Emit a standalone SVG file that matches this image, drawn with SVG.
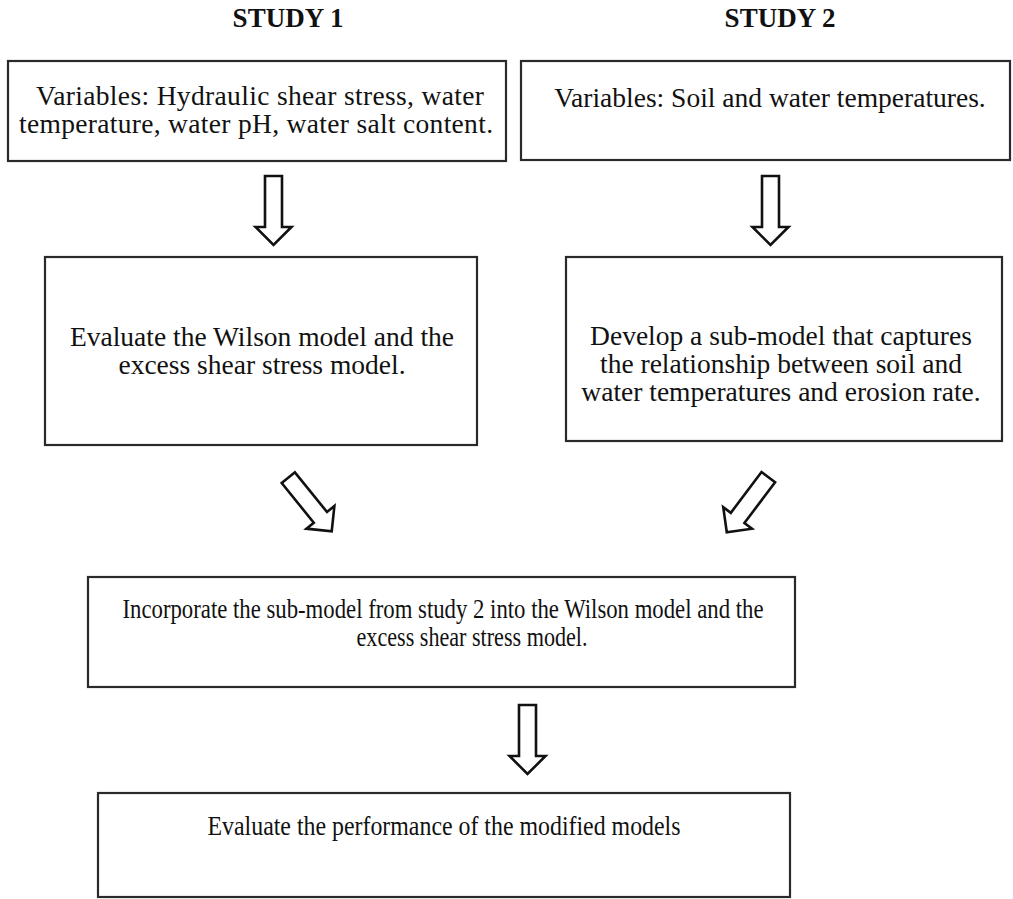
<svg xmlns="http://www.w3.org/2000/svg" width="1013" height="899" viewBox="0 0 1013 899">
<style>
.box{fill:#fff;stroke:#2a2a2a;stroke-width:2.2}
.t{font-family:"Liberation Serif","Times New Roman",serif;font-size:27.5px;fill:#111;text-anchor:middle}
.s{font-size:27px}
.h{font-family:"Liberation Serif","Times New Roman",serif;font-size:27px;font-weight:bold;fill:#111;text-anchor:middle}
.arr{fill:#fff;stroke:#111;stroke-width:2.6;stroke-linejoin:miter}
</style>
<defs>
<polygon id="blk" points="-8.5,0 8.5,0 8.5,51 18,51 0,69 -18,51 -8.5,51"/>
</defs>
<rect width="1013" height="899" fill="#fff"/>
<text class="h" x="288" y="27">STUDY 1</text>
<text class="h" x="780" y="27">STUDY 2</text>
<g id="n1">
<rect class="box" x="8" y="61" width="498" height="100"/>
<text class="t" x="260" y="105" textLength="448" lengthAdjust="spacing">Variables: Hydraulic shear stress, water</text>
<text class="t" x="256" y="133" textLength="474" lengthAdjust="spacing">temperature, water pH, water salt content.</text>
</g>
<g id="n2">
<rect class="box" x="521" y="61" width="489" height="99"/>
<text class="t" x="770" y="107">Variables: Soil and water temperatures.</text>
</g>
<g id="n3">
<rect class="box" x="45" y="257" width="432" height="188"/>
<text class="t" x="262" y="346">Evaluate the Wilson model and the</text>
<text class="t" x="262" y="374">excess shear stress model.</text>
</g>
<g id="n4">
<rect class="box" x="566" y="257" width="436" height="184"/>
<text class="t" x="781" y="345">Develop a sub-model that captures</text>
<text class="t" x="781" y="373">the relationship between soil and</text>
<text class="t" x="781" y="401">water temperatures and erosion rate.</text>
</g>
<g id="n5">
<rect class="box" x="88" y="577" width="707" height="110"/>
<text class="t s" x="443" y="618" textLength="641" lengthAdjust="spacingAndGlyphs">Incorporate the sub-model from study 2 into the Wilson model and the</text>
<text class="t s" x="472" y="646" textLength="231" lengthAdjust="spacingAndGlyphs">excess shear stress model.</text>
</g>
<g id="n6">
<rect class="box" x="98" y="793" width="692" height="104"/>
<text class="t s" x="444" y="835" textLength="473" lengthAdjust="spacingAndGlyphs">Evaluate the performance of the modified models</text>
</g>
<g id="connectors">
<use href="#blk" class="arr" transform="translate(273.5,176)"/>
<use href="#blk" class="arr" transform="translate(770.5,176)"/>
<use href="#blk" class="arr" transform="translate(288.3,477.7) rotate(-39)"/>
<use href="#blk" class="arr" transform="translate(768.3,477.2) rotate(37)"/>
<use href="#blk" class="arr" transform="translate(527.5,705)"/>
</g>
</svg>
